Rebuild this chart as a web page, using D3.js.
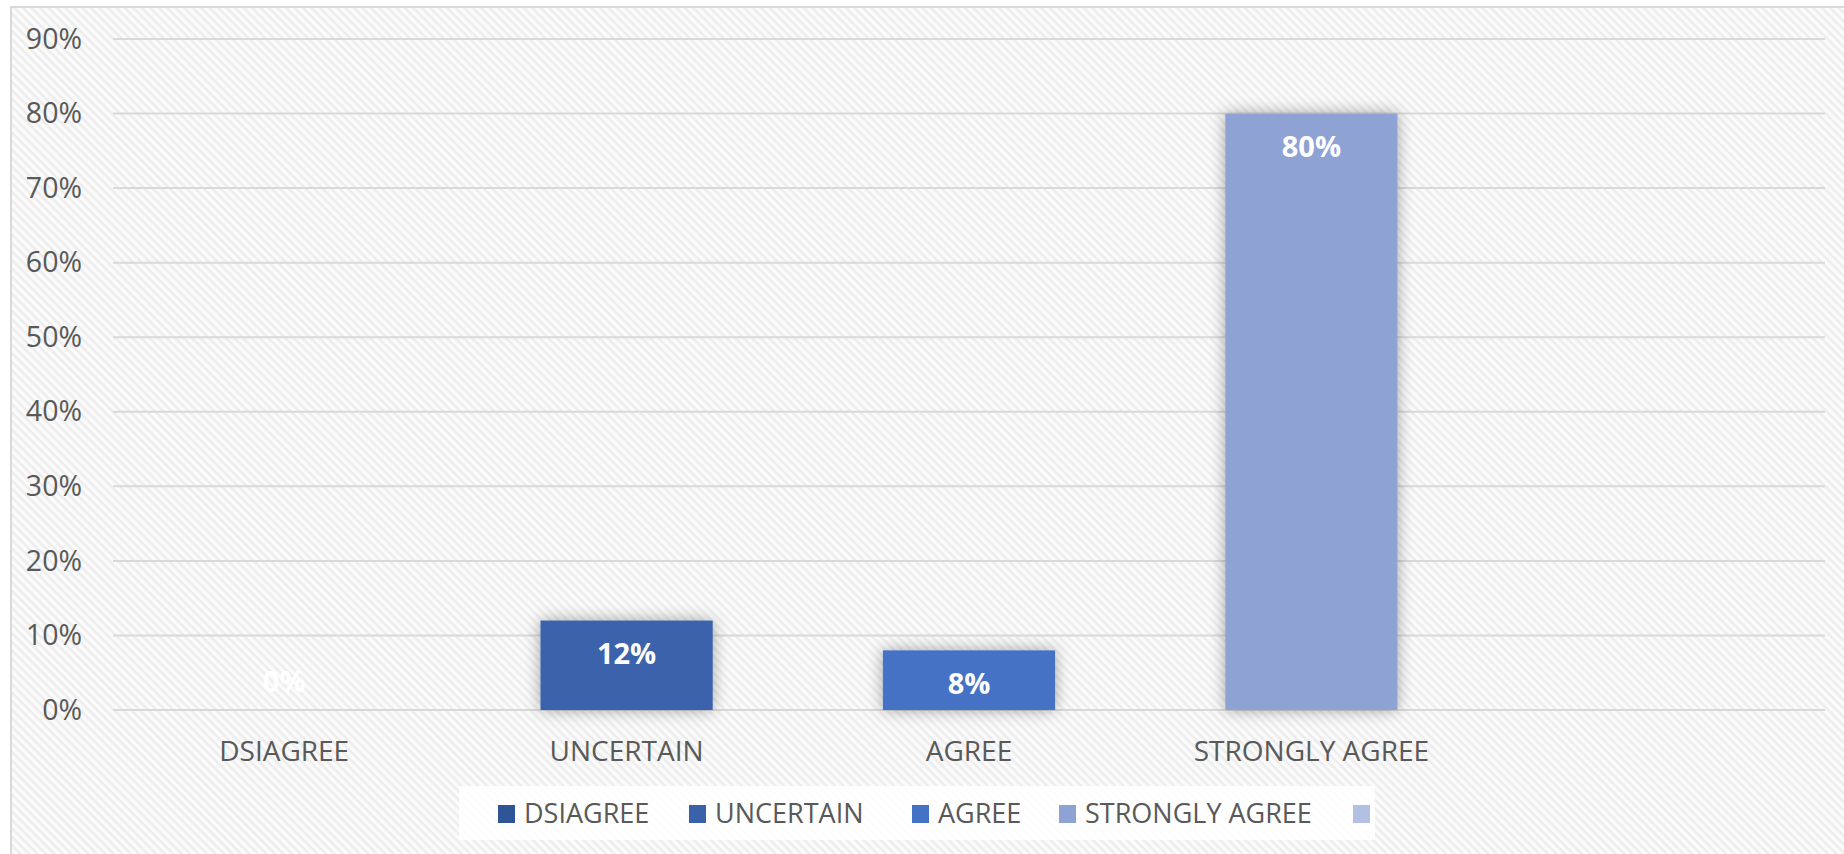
<!DOCTYPE html>
<html>
<head>
<meta charset="utf-8">
<script src="https://cdn.jsdelivr.net/npm/d3@7"></script>
<style>
  html, body { margin: 0; padding: 0; background: #ffffff; }
  svg { display: block; }
  text { font-family: "Open Sans", "Noto Sans", sans-serif; }
</style>
</head>
<body>
<svg id="chart" width="1844" height="854"></svg>
<script>
// ---- data ----
const categories = ["DSIAGREE", "UNCERTAIN", "AGREE", "STRONGLY AGREE", ""];
const values = [0, 12, 8, 80, null];
const colors = ["#2F5597", "#3A62AB", "#4472C4", "#8FA2D4", "#B4C0E2"];
const yTicks = [0, 10, 20, 30, 40, 50, 60, 70, 80, 90];
const legendLabels = ["DSIAGREE", "UNCERTAIN", "AGREE", "STRONGLY AGREE", ""];

const svg = d3.select("#chart");
const W = 1844, H = 854;

// ---- defs: stripe pattern & shadow ----
const defs = svg.append("defs");
const pat = defs.append("pattern")
  .attr("id", "stripes").attr("patternUnits", "userSpaceOnUse")
  .attr("width", 6).attr("height", 6)
  .attr("patternTransform", "rotate(45)");
pat.append("rect").attr("width", 6).attr("height", 6).attr("fill", "#fbfbfb");
pat.append("rect").attr("width", 6).attr("height", 2.6).attr("fill", "#ededed");

const f = defs.append("filter").attr("id", "shadow")
  .attr("x", "-30%").attr("y", "-30%").attr("width", "160%").attr("height", "160%");
f.append("feGaussianBlur").attr("in", "SourceAlpha").attr("stdDeviation", 8).attr("result", "b");
f.append("feComponentTransfer").attr("in", "b").attr("result", "b2")
  .append("feFuncA").attr("type", "linear").attr("slope", 0.35);
const fm = f.append("feMerge");
fm.append("feMergeNode").attr("in", "b2");
fm.append("feMergeNode").attr("in", "SourceGraphic");

// ---- background frame ----
svg.append("rect").attr("x", 11).attr("y", 7).attr("width", W).attr("height", H)
  .attr("fill", "url(#stripes)").attr("stroke", "#d9d9d9").attr("stroke-width", 2);

// ---- scales ----
const plot = { left: 113, right: 1825, top: 39, bottom: 710 };
const x = d3.scaleBand().domain(d3.range(categories.length))
  .range([plot.left, plot.right]).padding(0);
const y = d3.scaleLinear().domain([0, 90]).range([plot.bottom, plot.top]);

// ---- gridlines ----
svg.append("g").selectAll("line").data(yTicks).join("line")
  .attr("x1", plot.left).attr("x2", plot.right)
  .attr("y1", d => y(d)).attr("y2", d => y(d))
  .attr("stroke", "#d9d9d9").attr("stroke-width", 2);

// ---- y axis ----
const yAxis = d3.axisLeft(y).tickValues(yTicks).tickFormat(d => d + "%").tickSize(0).tickPadding(31);
const yg = svg.append("g").attr("transform", `translate(${plot.left},0)`).call(yAxis);
yg.select(".domain").remove();
yg.selectAll("text").attr("fill", "#595959").style("font-size", "28.5px")
  .style("font-family", "'Open Sans', sans-serif");

// ---- x axis labels ----
const xAxis = d3.axisBottom(x).tickFormat(i => categories[i]).tickSize(0).tickPadding(31);
const xg = svg.append("g").attr("transform", `translate(0,${plot.bottom})`).call(xAxis);
xg.select(".domain").remove();
xg.selectAll("text").attr("fill", "#595959").style("font-size", "28px")
  .style("font-family", "'Open Sans', sans-serif");

// ---- bars ----
const barW = x.bandwidth() * 0.503;
const data = values.map((v, i) => ({ v, i }));
svg.append("g").attr("filter", "url(#shadow)").selectAll("rect")
  .data(data.filter(d => d.v !== null && d.v > 0)).join("rect")
  .attr("x", d => x(d.i) + (x.bandwidth() - barW) / 2)
  .attr("width", barW)
  .attr("y", d => y(d.v))
  .attr("height", d => y(0) - y(d.v))
  .attr("fill", d => colors[d.i]);

// ---- value labels ----
svg.append("g").selectAll("text")
  .data(data.filter(d => d.v !== null)).join("text")
  .attr("x", d => x(d.i) + x.bandwidth() / 2)
  .attr("y", d => d.v > 0 ? y(d.v) + 33 : y(0) - 28)
  .attr("dy", "0.35em")
  .attr("text-anchor", "middle")
  .attr("fill", "#ffffff")
  .style("font-size", "29px").style("font-weight", "700")
  .text(d => d.v + "%");

// ---- legend ----
const lg = svg.append("g");
lg.append("rect").attr("x", 459).attr("y", 786).attr("width", 916).attr("height", 54)
  .attr("fill", "#ffffff").attr("fill-opacity", 0.85);
const legendX = [498, 689, 912, 1059, 1353];
legendLabels.forEach((lab, i) => {
  lg.append("rect").attr("x", legendX[i]).attr("y", 805).attr("width", 17).attr("height", 18)
    .attr("fill", colors[i]);
  if (lab) {
    lg.append("text").attr("x", legendX[i] + 26).attr("y", 814).attr("dy", "0.35em")
      .attr("fill", "#595959").style("font-size", "27px").text(lab);
  }
});
</script>
</body>
</html>
